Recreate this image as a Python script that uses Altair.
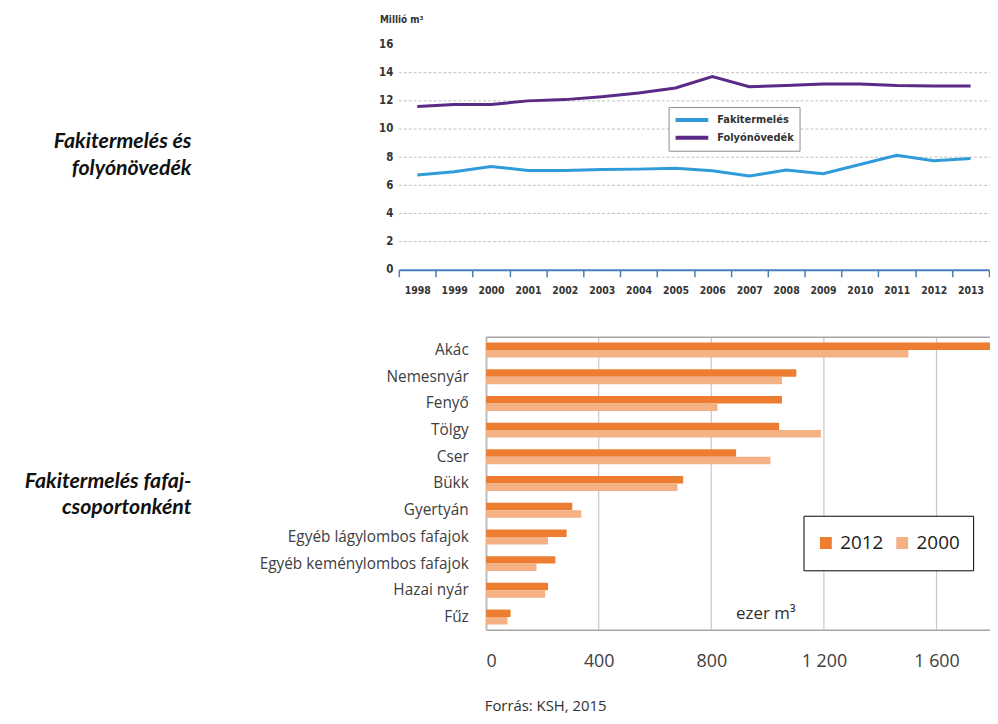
import altair as alt
import pandas as pd

# ---------- data: top chart (Millió m3) ----------
years = [str(y) for y in range(1998, 2014)]
fakitermeles = [6.73, 6.96, 7.34, 7.06, 7.06, 7.13, 7.15, 7.22, 7.04, 6.66, 7.08, 6.82, 7.48, 8.14, 7.74, 7.90]
folyonovedek = [11.60, 11.74, 11.74, 12.00, 12.09, 12.30, 12.56, 12.92, 13.72, 13.01, 13.10, 13.20, 13.20, 13.10, 13.06, 13.06]
series_names = ["Fakitermelés", "Folyónövedék"]
series_colors = ["#2f9bd9", "#5a2a86"]
top_ticks = [0, 2, 4, 6, 8, 10, 12, 14, 16]
top_grid = [2, 4, 6, 8, 10, 12, 14]

# ---------- data: bottom chart (ezer m3) ----------
species = ["Akác", "Nemesnyár", "Fenyő", "Tölgy", "Cser", "Bükk", "Gyertyán",
           "Egyéb lágylombos fafajok", "Egyéb keménylombos fafajok", "Hazai nyár", "Fűz"]
v2012 = [1800, 1102, 1051, 1041, 888, 700, 306, 286, 246, 220, 87]
v2000 = [1500, 1051, 822, 1189, 1010, 680, 338, 220, 179, 210, 76]
bar_years = ["2012", "2000"]
bar_colors = ["#ed7d31", "#f4b183"]
bottom_ticks = [0, 400, 800, 1200, 1600]

COND = "Liberation Sans Narrow, DejaVu Sans Condensed, sans-serif"
BODY = "Open Sans, Liberation Sans, sans-serif"
TITLEF = "Lato, Open Sans, sans-serif"

# canvas = whole page minus the 8px margin
CW, CH = 990, 708
# top plot area (canvas px)
T_L, T_R, T_TOP, T_BOT = 394, 989, 34, 261
# bottom plot area (canvas px)
B_L, B_R, B_TOP, B_BOT = 482, 990, 329, 624

top_df = pd.DataFrame({
    "year": years * 2,
    "value": fakitermeles + folyonovedek,
    "series": [series_names[0]] * len(years) + [series_names[1]] * len(years),
})
grid_df = pd.DataFrame({"value": top_grid})

x_top = alt.Scale(type="band", domain=years, range=[T_L, T_R], paddingInner=0, paddingOuter=0)
y_top = alt.Scale(domain=[0, 16], nice=False, range=[T_BOT, T_TOP])

x_top_axis = alt.Axis(title=None, orient="bottom", offset=T_BOT - CH, labelAngle=0,
                      tickBand="extent", domainColor="#4a7ebb", domainWidth=2,
                      tickColor="#4a7ebb", tickWidth=1.5, tickSize=7,
                      labelFont=COND, labelFontWeight="bold", labelFontSize=10.5,
                      labelColor="#333333", labelPadding=9, grid=False)
y_top_axis = alt.Axis(title=None, orient="left", offset=-T_L, values=top_ticks, grid=False,
                      domain=False, ticks=False, labelFont=COND,
                      labelFontWeight="bold", labelFontSize=11.5,
                      labelColor="#333333", labelPadding=6)

grid_top = alt.Chart(grid_df).mark_rule(color="#c0c0c0", strokeDash=[3, 2], strokeWidth=1).encode(
    y=alt.Y("value:Q", scale=y_top, axis=y_top_axis),
    x=alt.value(T_L), x2=alt.value(CW),
)

lines = alt.Chart(top_df).mark_line(strokeWidth=3).encode(
    x=alt.X("year:N", sort=years, scale=x_top, axis=x_top_axis),
    y=alt.Y("value:Q", scale=y_top, axis=y_top_axis),
    color=alt.Color("series:N",
                    scale=alt.Scale(domain=series_names, range=series_colors),
                    legend=alt.Legend(title=None, orient="none", legendX=666, legendY=97,
                                      direction="vertical", fillColor="white",
                                      strokeColor="#8c8c8c", padding=5,
                                      symbolType="stroke", symbolSize=1089,
                                      symbolStrokeWidth=4, clipHeight=16, rowPadding=2,
                                      labelFont=COND, labelFontWeight="bold",
                                      labelFontSize=11, labelColor="#333333",
                                      labelOffset=7)),
)

top = alt.layer(grid_top, lines)

# ---------- bottom ----------
bar_df = pd.DataFrame({
    "species": species * 2,
    "year": [bar_years[0]] * len(species) + [bar_years[1]] * len(species),
    "value": v2012 + v2000,
})
bgrid_df = pd.DataFrame({"value": bottom_ticks})

x_bot = alt.Scale(domain=[0, 1790], nice=False, range=[B_L, B_R])
y_bot = alt.Scale(domain=species, range=[B_TOP, B_BOT], paddingInner=0.44)

x_bot_axis = alt.Axis(title=None, orient="bottom", offset=B_BOT - CH, values=bottom_ticks,
                      grid=False, ticks=False, domainColor="#a6a6a6", domainWidth=1.5,
                      labelFont=BODY, labelFontSize=18, labelColor="#404040",
                      labelPadding=23,
                      labelExpr="replace(format(datum.value, ','), ',', ' ')")
y_bot_axis = alt.Axis(title=None, orient="left", offset=-B_L, ticks=False, domain=True,
                      domainColor="#a6a6a6", domainWidth=1.5, labelFont=BODY,
                      labelFontSize=15.5, labelColor="#404040", labelPadding=18,
                      labelLimit=400)

bgrid = alt.Chart(bgrid_df).mark_rule(color="#c8c8c8", strokeWidth=1.2).encode(
    x=alt.X("value:Q", scale=x_bot, axis=x_bot_axis),
    y=alt.value(B_TOP), y2=alt.value(B_BOT),
)

bars = alt.Chart(bar_df).mark_bar().encode(
    y=alt.Y("species:N", sort=species, scale=y_bot, axis=y_bot_axis),
    yOffset=alt.YOffset("year:N", sort=bar_years, scale=alt.Scale(paddingInner=0)),
    x=alt.X("value:Q", scale=x_bot, axis=x_bot_axis),
    color=alt.Color("year:N", sort=bar_years,
                    scale=alt.Scale(domain=bar_years, range=bar_colors),
                    legend=alt.Legend(title=None, orient="none", legendX=802, legendY=509,
                                      direction="horizontal", fillColor="white",
                                      strokeColor="#000000", padding=13,
                                      symbolType="square", symbolSize=144,
                                      symbolStrokeWidth=0, labelFont=BODY, labelFontSize=19,
                                      labelColor="#202020", labelOffset=5,
                                      columnPadding=9, clipHeight=29)),
)

bottom = alt.layer(bgrid, bars)

# ---------- frame and texts ----------
one = pd.DataFrame({"a": [0]})
top_border = alt.Chart(one).mark_rule(color="#a6a6a6", strokeWidth=1.5).encode(
    x=alt.value(B_L), x2=alt.value(CW), y=alt.value(B_TOP)
)


def label(txt, x, y, align, size, font, color, **kw):
    return alt.Chart(pd.DataFrame({"t": [txt]})).mark_text(
        align=align, baseline="middle", font=font, fontSize=size, color=color, **kw
    ).encode(text="t:N", x=alt.value(x), y=alt.value(y))


unit_top = label("Millió m³", 375, 9, "left", 10, COND, "#333333", fontWeight="bold")
title_top = label("Fakitermelés és\nfolyónövedék", 185, 132, "right", 21.5, TITLEF, "#111111",
                  fontStyle="italic", fontWeight="bold", lineBreak="\n", lineHeight=27)
title_bot = label("Fakitermelés fafaj-\ncsoportonként", 185, 475, "right", 21.5, TITLEF, "#111111",
                  fontStyle="italic", fontWeight="bold", lineBreak="\n", lineHeight=26)
unit_bot = label("ezer m³", 734, 608, "left", 17, BODY, "#303030")
source = label("Forrás: KSH, 2015", 542, 701, "center", 15, BODY, "#303030")

chart = alt.layer(
    top, bottom, top_border, unit_top, title_top, title_bot, unit_bot, source
).resolve_scale(
    x="independent", y="independent", color="independent"
).properties(
    width=CW, height=CH, padding=0, autosize=alt.AutoSizeParams(type="none")
).configure_view(stroke=None)

chart.save("out.html", embed_options={"renderer": "svg", "actions": False})
